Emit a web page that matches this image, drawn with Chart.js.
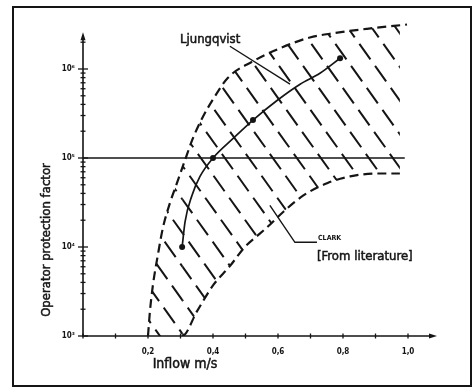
<!DOCTYPE html>
<html>
<head>
<meta charset="utf-8">
<title>Operator protection factor vs inflow</title>
<script src="https://cdn.jsdelivr.net/npm/chart.js@4.4.1/dist/chart.umd.min.js"></script>
<style>
  html, body { margin: 0; padding: 0; background: #fff; }
  #wrap { width: 476px; height: 389px; }
</style>
</head>
<body>
<div id="wrap"><canvas id="chart"></canvas></div>
<script>
// upper / left dashed edge of the hatched band
var upperX = [0.200, 0.206, 0.215, 0.231, 0.246, 0.268, 0.289, 0.314, 0.338, 0.369, 0.400, 0.446, 0.523, 0.606, 0.698, 0.769, 0.874, 0.997];
var upperY = [1000, 1900, 3700, 8400, 16500, 31600, 52100, 95000, 166000, 290000, 456000, 798000, 1220000, 1710000, 2260000, 2520000, 2830000, 3160000];

// lower / right dashed edge (first point only closes the band along the axis)
var lowerX = [0.200, 0.305, 0.351, 0.400, 0.452, 0.498, 0.545, 0.575, 0.615, 0.677, 0.751, 0.822, 0.905, 0.975];
var lowerY = [1000, 1000, 1900, 3700, 6100, 10000, 14200, 17800, 24600, 37700, 52100, 62100, 67000, 67000];

// Ljungqvist curve and its measured points
var ljungX = [0.305, 0.314, 0.335, 0.360, 0.400, 0.462, 0.523, 0.597, 0.668, 0.729, 0.791];
var ljungY = [10000, 19200, 37700, 62100, 100000, 166000, 267000, 443000, 675000, 894000, 1320000];
var dotX = [0.305, 0.400, 0.523, 0.791];
var dotY = [10000, 100000, 267000, 1320000];

// 10^5 reference line
var refX = [0, 0.99];
var refY = [100000, 100000];

// label leader lines
var ljungLeadX = [0.452, 0.637];
var ljungLeadY = [1800000, 675000];
var clarkLeadX = [0.575, 0.652, 0.720];
var clarkLeadY = [29300, 11300, 11300];

// ticks
var xTickValues = [0, 0.1, 0.2, 0.3, 0.4, 0.5, 0.6, 0.7, 0.8, 0.9, 1.0];
var xTickLabels = ['', '', '0,2', '', '0,4', '', '0,6', '', '0,8', '', '1,0'];
var yDecades = [1000, 10000, 100000, 1000000];
var yDecadeLabels = ['10\u00B3', '10\u2074', '10\u2075', '10\u2076'];
var yMinorSteps = [1, 2, 3, 4, 5, 6, 7, 8, 9];

var ink = '#151515';
var cond = '"DejaVu Sans Condensed", "DejaVu Sans", sans-serif';

function pts(xs, ys) {
    var out = [];
    for (var i = 0; i < xs.length; i++) out.push({x: xs[i], y: ys[i]});
    return out;
}

var canvas = document.getElementById('chart');

// dashed diagonal hatching used as the band's fill
var hatch = document.createElement('canvas');
hatch.width = 476;
hatch.height = 389;
var h = hatch.getContext('2d');
h.strokeStyle = ink;
h.lineWidth = 2;
h.setLineDash([19, 8]);
for (var hx = -320; hx < 476; hx += 24) {
    h.beginPath();
    h.moveTo(hx, 0);
    h.lineTo(hx + 389 / 1.4, 389);
    h.stroke();
}
var hatchFill = canvas.getContext('2d').createPattern(hatch, 'no-repeat');

function inkText(c, s, x, y) {
    c.fillText(s, x, y);
    c.strokeText(s, x, y);
}

var overlay = {
    id: 'overlay',
    afterDraw: function (chart) {
        var c = chart.ctx;
        var xs = chart.scales.x, ys = chart.scales.y;
        var x0 = xs.getPixelForValue(0);
        var y0 = ys.getPixelForValue(1000);
        var yTop = ys.getPixelForValue(2400000);
        var xEnd = xs.getPixelForValue(1.08);
        c.save();
        c.strokeStyle = ink;
        c.fillStyle = ink;

        // frame
        c.lineWidth = 2;
        c.strokeRect(13, 7, 458, 379);

        // axes
        c.lineWidth = 1.6;
        c.beginPath();
        c.moveTo(x0, yTop);
        c.lineTo(x0, y0);
        c.lineTo(xEnd, y0);
        c.stroke();
        c.beginPath();
        c.moveTo(x0, yTop - 3);
        c.lineTo(x0 - 2.5, yTop + 5);
        c.lineTo(x0 + 2.5, yTop + 5);
        c.closePath();
        c.fill();
        c.beginPath();
        c.moveTo(xEnd + 3, y0);
        c.lineTo(xEnd - 5, y0 - 2.5);
        c.lineTo(xEnd - 5, y0 + 2.5);
        c.closePath();
        c.fill();

        // y ticks
        c.lineWidth = 1.3;
        ys.ticks.forEach(function (t) {
            var py = ys.getPixelForValue(t.value);
            var major = yDecades.indexOf(t.value) >= 0;
            var len = major ? 5 : 2.5;
            c.beginPath();
            c.moveTo(x0 - len, py);
            c.lineTo(x0 + len, py);
            c.stroke();
        });
        c.font = 'bold 8px ' + cond;
        c.textAlign = 'right';
        c.textBaseline = 'middle';
        yDecades.forEach(function (v, i) {
            c.fillText(yDecadeLabels[i], x0 - 8, ys.getPixelForValue(v));
        });

        // x ticks
        xs.ticks.forEach(function (t) {
            var px = xs.getPixelForValue(t.value);
            c.beginPath();
            c.moveTo(px, y0 - 2.5);
            c.lineTo(px, y0 + 2.5);
            c.stroke();
        });
        c.textAlign = 'center';
        xTickValues.forEach(function (v, i) {
            if (xTickLabels[i]) c.fillText(xTickLabels[i], xs.getPixelForValue(v), y0 + 16);
        });

        // axis titles
        c.lineWidth = 0.5;
        c.font = '14px ' + cond;
        inkText(c, 'Inflow m/s', 185, 364);
        c.save();
        c.translate(47, 240);
        c.rotate(-Math.PI / 2);
        c.font = '13px ' + cond;
        inkText(c, 'Operator protection factor', 0, 0);
        c.restore();

        // annotations
        c.textAlign = 'left';
        c.font = '13px ' + cond;
        inkText(c, 'Ljungqvist', 180, 40);
        c.font = 'bold 7px ' + cond;
        c.fillText('CLARK', 318, 238);
        c.font = '13px ' + cond;
        inkText(c, '[From literature]', 317, 257);
        c.restore();
    }
};

new Chart(canvas, {
    type: 'line',
    data: {
        datasets: [
            {
                data: pts(upperX, upperY),
                borderColor: ink,
                borderWidth: 2.2,
                borderDash: [9, 5],
                pointRadius: 0,
                cubicInterpolationMode: 'monotone',
                fill: '+1',
                backgroundColor: hatchFill
            },
            {
                data: pts(lowerX, lowerY),
                borderColor: ink,
                borderWidth: 2.2,
                borderDash: [9, 5],
                pointRadius: 0,
                cubicInterpolationMode: 'monotone',
                fill: false,
                segment: {
                    borderColor: function (ctx) { return ctx.p0DataIndex === 0 ? 'rgba(0,0,0,0)' : undefined; }
                }
            },
            {
                data: pts(refX, refY),
                borderColor: ink,
                borderWidth: 1.5,
                pointRadius: 0,
                fill: false
            },
            {
                data: pts(ljungX, ljungY),
                borderColor: ink,
                borderWidth: 1.7,
                pointRadius: 0,
                cubicInterpolationMode: 'monotone',
                fill: false
            },
            {
                data: pts(dotX, dotY),
                showLine: false,
                pointRadius: 3,
                pointBackgroundColor: ink,
                pointBorderWidth: 0,
                fill: false
            },
            {
                data: pts(ljungLeadX, ljungLeadY),
                borderColor: ink,
                borderWidth: 1.4,
                pointRadius: 0,
                fill: false
            },
            {
                data: pts(clarkLeadX, clarkLeadY),
                borderColor: ink,
                borderWidth: 1.4,
                pointRadius: 0,
                fill: false
            }
        ]
    },
    options: {
        responsive: true,
        maintainAspectRatio: false,
        animation: false,
        layout: {
            autoPadding: false,
            padding: {left: 83, right: 42, top: 22, bottom: 53}
        },
        plugins: {
            legend: {display: false},
            tooltip: {enabled: false}
        },
        scales: {
            x: {
                type: 'linear',
                min: 0,
                max: 1.08,
                grid: {display: false, drawTicks: false},
                border: {display: false},
                ticks: {display: false},
                afterBuildTicks: function (scale) {
                    scale.ticks = xTickValues.map(function (v) { return {value: v}; });
                },
                afterFit: function (scale) { scale.height = 0; }
            },
            y: {
                type: 'logarithmic',
                min: 1000,
                max: Math.pow(10, 6.528),
                grid: {display: false, drawTicks: false},
                border: {display: false},
                ticks: {display: false},
                afterBuildTicks: function (scale) {
                    var t = [];
                    yDecades.forEach(function (d) {
                        yMinorSteps.forEach(function (m) {
                            if (d * m <= 2000000) t.push({value: d * m});
                        });
                    });
                    scale.ticks = t;
                },
                afterFit: function (scale) { scale.width = 0; }
            }
        }
    },
    plugins: [overlay]
});
</script>
</body>
</html>
